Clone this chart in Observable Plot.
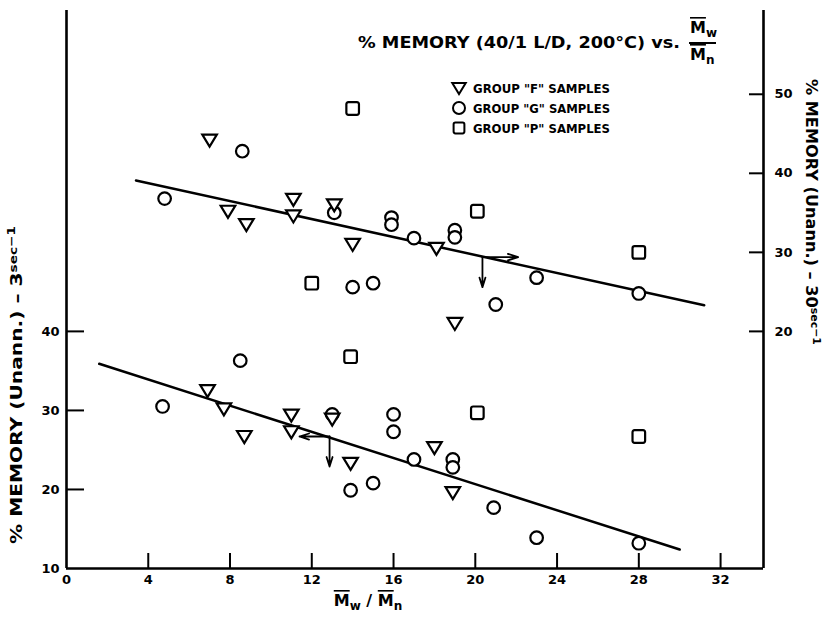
<!DOCTYPE html>
<html><head><meta charset="utf-8">
<script src="https://cdn.jsdelivr.net/npm/d3@7"></script>
<script src="https://cdn.jsdelivr.net/npm/@observablehq/plot@0.6"></script>
<style>
body{margin:0;background:#fff}
svg{font-family:"DejaVu Sans",sans-serif;font-weight:bold}
</style>
</head><body><div id="chart"></div>
<script>
// ---------- data ----------
const xTicks = [0, 4, 8, 12, 16, 20, 24, 28, 32];
const leftTicks = [10, 20, 30, 40];
const rightTicks = [20, 30, 40, 50];
const rightOffset = 20;            // right-axis value = left-axis value - 20
const xDomain = [0, 34.1];
const yDomain = [10, 80.6];

// Upper set: 30 sec^-1 (read on right axis)
const upperF_x = [7.0, 7.9, 8.8, 11.1, 11.1, 13.1, 14.0, 18.1, 19.0];
const upperF_y = [44.2, 35.2, 33.5, 36.7, 34.6, 36.0, 31.0, 30.5, 21.0];
const upperG_x = [4.8, 8.6, 13.1, 15.9, 15.9, 17.0, 19.0, 19.0, 14.0, 15.0, 23.0, 21.0, 28.0];
const upperG_y = [36.8, 42.8, 35.0, 34.4, 33.5, 31.8, 32.8, 31.9, 25.6, 26.1, 26.8, 23.4, 24.8];
const upperP_x = [14.0, 20.1, 28.0, 12.0];
const upperP_y = [48.2, 35.2, 30.0, 26.1];

// Lower set: 3 sec^-1 (read on left axis)
const lowerF_x = [6.9, 7.7, 8.7, 11.0, 11.0, 13.0, 13.9, 18.0, 18.9];
const lowerF_y = [32.5, 30.2, 26.7, 29.4, 27.3, 28.9, 23.3, 25.3, 19.6];
const lowerG_x = [4.7, 8.5, 13.0, 13.9, 15.0, 16.0, 16.0, 17.0, 18.9, 18.9, 20.9, 23.0, 28.0];
const lowerG_y = [30.5, 36.3, 29.5, 19.9, 20.8, 29.5, 27.3, 23.8, 23.8, 22.8, 17.7, 13.9, 13.2];
const lowerP_x = [13.9, 20.1, 28.0];
const lowerP_y = [36.8, 29.7, 26.7];

// fitted lines
const upperLine_x = [3.4, 31.2];
const upperLine_y = [39.1, 23.3];
const lowerLine_x = [1.6, 30.0];
const lowerLine_y = [35.9, 12.4];

// axis-indicator arrows: [x1, y1, x2, y2]
const upperArrowRight = [20.35, 29.4, 22.1, 29.4];
const upperArrowDown  = [20.35, 29.4, 20.35, 25.6];
const lowerArrowLeft  = [12.87, 26.7, 11.4, 26.7];
const lowerArrowDown  = [12.87, 26.7, 12.87, 22.9];

// ---------- build ----------
const up = v => v + rightOffset;
const pts = (xs, ys, f = v => v) => xs.map((x, i) => ({x, y: f(ys[i])}));

const triDown = {draw(ctx, size) {
  const r = Math.sqrt(size / Math.PI);
  const w = r * 1.12, t = r * 0.85, b = r * 1.0;
  ctx.moveTo(-w, -t); ctx.lineTo(w, -t); ctx.lineTo(0, b); ctx.closePath();
}};
const roundSq = {draw(ctx, size) {
  const r = Math.sqrt(size / Math.PI);
  const s = r * 0.9, c = r * 0.3;
  ctx.moveTo(-s + c, -s); ctx.lineTo(s - c, -s); ctx.quadraticCurveTo(s, -s, s, -s + c);
  ctx.lineTo(s, s - c); ctx.quadraticCurveTo(s, s, s - c, s);
  ctx.lineTo(-s + c, s); ctx.quadraticCurveTo(-s, s, -s, s - c);
  ctx.lineTo(-s, -s + c); ctx.quadraticCurveTo(-s, -s, -s + c, -s); ctx.closePath();
}};

const F = pts(upperF_x, upperF_y, up).concat(pts(lowerF_x, lowerF_y));
const G = pts(upperG_x, upperG_y, up).concat(pts(lowerG_x, lowerG_y));
const P = pts(upperP_x, upperP_y, up).concat(pts(lowerP_x, lowerP_y));

const arrows = [
  {a: upperArrowRight, f: up}, {a: upperArrowDown, f: up},
  {a: lowerArrowLeft, f: v => v}, {a: lowerArrowDown, f: v => v}
].map(({a, f}) => ({x1: a[0], y1: f(a[1]), x2: a[2], y2: f(a[3])}));

const dotOpts = {x: "x", y: "y", stroke: "black", strokeWidth: 2.2, fill: "white"};

const plot = Plot.plot({
  width: 828, height: 627,
  marginLeft: 66, marginRight: 65, marginTop: 10, marginBottom: 59,
  x: {domain: xDomain},
  y: {domain: yDomain},
  style: {fontSize: "13px", fontWeight: "bold", fontFamily: "'DejaVu Sans', sans-serif", color: "black"},
  marks: [
    Plot.axisX({ticks: xTicks.slice(1), tickSize: -15, tickFormat: () => "", strokeWidth: 2, label: null}),
    Plot.axisX({ticks: xTicks, tickSize: 0, tickPadding: 6, label: null, fontSize: 13}),
    Plot.axisY({ticks: leftTicks.slice(1), tickSize: -18, tickFormat: () => "", strokeWidth: 2, label: null}),
    Plot.axisY({ticks: leftTicks, tickSize: 0, tickPadding: 7, label: null, fontSize: 13}),
    Plot.axisY({anchor: "right", ticks: rightTicks.map(up), tickSize: -15, tickFormat: () => "", strokeWidth: 2, label: null}),
    Plot.axisY({anchor: "right", ticks: rightTicks.map(up), tickSize: 0, tickPadding: 11, tickFormat: d => String(d - rightOffset), label: null, fontSize: 13}),
    Plot.ruleX([xDomain[0], xDomain[1]], {strokeWidth: 2.6}),
    Plot.ruleY([yDomain[0]], {strokeWidth: 2.6}),
    Plot.line(pts(upperLine_x, upperLine_y, up), {x: "x", y: "y", strokeWidth: 2.5}),
    Plot.line(pts(lowerLine_x, lowerLine_y), {x: "x", y: "y", strokeWidth: 2.5}),
    Plot.arrow(arrows, {x1: "x1", y1: "y1", x2: "x2", y2: "y2", strokeWidth: 1.8, headLength: 9, headAngle: 35}),
    Plot.dot(G, {...dotOpts, symbol: "circle", r: 6.3}),
    Plot.dot(P, {...dotOpts, symbol: roundSq, r: 7}),
    Plot.dot(F, {...dotOpts, symbol: triDown, r: 6.5})
  ]
});
document.getElementById("chart").appendChild(plot);

// ---------- annotations ----------
const svg = d3.select(plot);
const g = svg.append("g").attr("fill", "black").attr("text-anchor", "start").style("font-weight", "bold");

// title
g.append("text").attr("x", 358).attr("y", 48).attr("font-size", 15.5)
  .attr("textLength", 322).attr("lengthAdjust", "spacingAndGlyphs")
  .text("% MEMORY (40/1 L/D, 200°C) vs.");
const fr = g.append("g").attr("font-size", 16);
const num = fr.append("text").attr("x", 690).attr("y", 33);
num.append("tspan").style("text-decoration", "overline").text("M");
num.append("tspan").attr("dy", 4).attr("font-size", 12).text("w");
fr.append("line").attr("x1", 689).attr("x2", 716).attr("y1", 43).attr("y2", 43).attr("stroke", "black").attr("stroke-width", 2);
const den = fr.append("text").attr("x", 690).attr("y", 60);
den.append("tspan").style("text-decoration", "overline").text("M");
den.append("tspan").attr("dy", 4).attr("font-size", 12).text("n");

// legend
const legend = [["F", triDown], ["G", d3.symbolCircle], ["P", roundSq]];
legend.forEach(([k, sym], i) => {
  const y = 88 + i * 20;
  g.append("path").attr("d", d3.symbol(sym, Math.PI * 6 * 6)())
    .attr("transform", `translate(459,${y})`).attr("fill", "white").attr("stroke", "black").attr("stroke-width", 2);
  g.append("text").attr("x", 473).attr("y", y + 5).attr("font-size", 12.5)
    .attr("textLength", 137).attr("lengthAdjust", "spacingAndGlyphs")
    .text(`GROUP "${k}" SAMPLES`);
});

// left axis label
const ll = g.append("text").attr("transform", "translate(22,385) rotate(-90)").attr("text-anchor", "middle")
  .attr("font-size", 15.5).attr("textLength", 318).attr("lengthAdjust", "spacingAndGlyphs");
ll.append("tspan").text("% MEMORY (Unann.) – 3");
ll.append("tspan").attr("font-size", 10.5).attr("dy", -5).text("sec");
ll.append("tspan").attr("font-size", 10.5).attr("dy", -2).text("−1");

// right axis label
const rl = g.append("text").attr("transform", "translate(806,212) rotate(90)").attr("text-anchor", "middle")
  .attr("font-size", 15.5).attr("textLength", 266).attr("lengthAdjust", "spacingAndGlyphs");
rl.append("tspan").text("% MEMORY (Unann.) – 30");
rl.append("tspan").attr("font-size", 10.5).attr("dy", -5).text("sec");
rl.append("tspan").attr("font-size", 10.5).attr("dy", -2).text("−1");

// x label
const xl = g.append("text").attr("x", 368).attr("y", 606).attr("text-anchor", "middle").attr("font-size", 16);
xl.append("tspan").style("text-decoration", "overline").text("M");
xl.append("tspan").attr("dy", 4).attr("font-size", 12).text("w");
xl.append("tspan").attr("dy", -4).text(" / ");
xl.append("tspan").style("text-decoration", "overline").text("M");
xl.append("tspan").attr("dy", 4).attr("font-size", 12).text("n");
</script>
</body></html>
